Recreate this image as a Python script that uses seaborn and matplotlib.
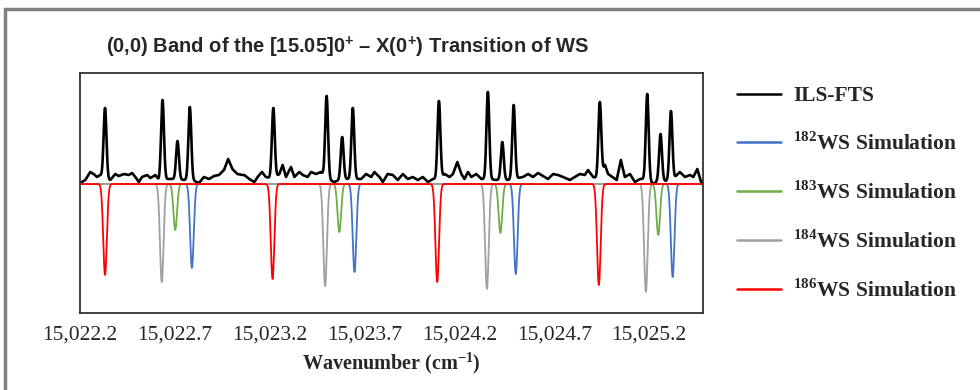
import numpy as np
import pandas as pd
import matplotlib
matplotlib.use("Agg")
import matplotlib.pyplot as plt
from matplotlib.patches import Rectangle
from matplotlib.ticker import FuncFormatter, AutoMinorLocator
import seaborn as sns

# ---------------------------------------------------------------------------
# Line lists (wavenumber in cm^-1, intensity in arbitrary units)
# ---------------------------------------------------------------------------
# Simulated isotopologue lines (drawn downward)
ws182_pos = [15022.790, 15023.647, 15024.497, 15025.324]
ws182_int = [84, 88, 90, 93]
ws183_pos = [15022.702, 15023.567, 15024.416, 15025.248]
ws183_int = [46, 48, 49, 51]
ws184_pos = [15022.631, 15023.492, 15024.345, 15025.183]
ws184_int = [98, 102, 105, 108]
ws186_pos = [15022.332, 15023.215, 15024.083, 15024.935]
ws186_int = [91, 95, 98, 101]

# Observed ILS-FTS lines (drawn upward, above the noisy background)
fts_pos = [15022.332, 15022.635, 15022.714, 15022.779,
           15023.219, 15023.500, 15023.582, 15023.638,
           15024.092, 15024.350, 15024.426, 15024.486,
           15024.940, 15025.190, 15025.260, 15025.315]
fts_int = [71, 79, 38, 72,
           71, 83, 42, 71,
           78, 87, 37, 74,
           77, 85, 45, 68]

# Observed background between the lines
bg_wn = [15022.200, 15022.228, 15022.254, 15022.272, 15022.290, 15022.307,
         15022.332, 15022.360, 15022.386, 15022.404, 15022.431, 15022.457,
         15022.475, 15022.492, 15022.510, 15022.527, 15022.554, 15022.571,
         15022.598, 15022.615, 15022.635, 15022.677, 15022.714, 15022.748,
         15022.779, 15022.827, 15022.853, 15022.880, 15022.906, 15022.932,
         15022.959, 15022.981, 15023.003, 15023.029, 15023.055, 15023.066,
         15023.092, 15023.119, 15023.136, 15023.159, 15023.180, 15023.219,
         15023.251, 15023.268, 15023.286, 15023.312, 15023.330, 15023.356,
         15023.374, 15023.400, 15023.418, 15023.444, 15023.471, 15023.500,
         15023.541, 15023.582, 15023.611, 15023.638, 15023.682, 15023.708,
         15023.735, 15023.752, 15023.779, 15023.796, 15023.822, 15023.849,
         15023.875, 15023.902, 15023.928, 15023.954, 15023.981, 15024.007,
         15024.034, 15024.060, 15024.092, 15024.122, 15024.148, 15024.166,
         15024.189, 15024.210, 15024.227, 15024.245, 15024.263, 15024.289,
         15024.316, 15024.350, 15024.395, 15024.426, 15024.454, 15024.486,
         15024.535, 15024.562, 15024.588, 15024.614, 15024.641, 15024.667,
         15024.694, 15024.720, 15024.747, 15024.782, 15024.808, 15024.835,
         15024.861, 15024.878, 15024.905, 15024.940, 15024.967, 15024.984,
         15025.007, 15025.029, 15025.051, 15025.072, 15025.099, 15025.125,
         15025.151, 15025.190, 15025.222, 15025.260, 15025.287, 15025.315,
         15025.336, 15025.362, 15025.389, 15025.415, 15025.433, 15025.454,
         15025.477, 15025.484]
bg_val = [1, 4, 12, 10, 7, 9,
          5, 4, 10, 8, 10, 9,
          11, 7, 2, 7, 9, 6,
          9, 4, 5, 5, 5, 4,
          5, 1, 7, 5, 8, 9,
          14, 25, 15, 10, 9, 9,
          5, 2, 7, 12, 7, 5,
          10, 19, 7, 17, 7, 12,
          9, 7, 12, 10, 12, 5,
          2, 5, 5, 5, 5, 10,
          7, 12, 7, 2, 10, 9,
          4, 10, 5, 7, 4, 7,
          2, 5, 5, 10, 7, 10,
          22, 10, 5, 12, 7, 10,
          5, 5, 4, 5, 4, 5,
          7, 10, 7, 11, 8, 5,
          10, 9, 7, 4, 7, 10,
          9, 14, 7, 5, 19, 10,
          7, 4, 24, 7, 10, 2,
          5, 5, 0, 5, 3, 5,
          7, 12, 7, 9, 7, 15,
          0, 2]

x_ticks = [15022.2, 15022.7, 15023.2, 15023.7, 15024.2, 15024.7, 15025.2]
x_range = (15022.2, 15025.484)

series_labels = ["ILS-FTS", r"$^{\mathbf{182}}$WS Simulation",
                 r"$^{\mathbf{183}}$WS Simulation",
                 r"$^{\mathbf{184}}$WS Simulation",
                 r"$^{\mathbf{186}}$WS Simulation"]
series_colors = ["black", "#4472C4", "#70AD47", "#A0A0A0", "#FF0000"]

# ---------------------------------------------------------------------------
# Build spectra from the line lists
# ---------------------------------------------------------------------------
grid = np.arange(x_range[0], x_range[1] + 1e-9, 0.001)


def profile(pos, inten, sigma):
    out = np.zeros_like(grid)
    for p, a in zip(pos, inten):
        out += a * np.exp(-0.5 * ((grid - p) / sigma) ** 2)
    return out


observed = profile(fts_pos, fts_int, 0.0075) + np.interp(grid, bg_wn, bg_val)
sims = [-profile(ws182_pos, ws182_int, 0.0095),
        -profile(ws183_pos, ws183_int, 0.0095),
        -profile(ws184_pos, ws184_int, 0.0095),
        -profile(ws186_pos, ws186_int, 0.0095)]

# ---------------------------------------------------------------------------
# Figure
# ---------------------------------------------------------------------------
sns.set_style("white")
plt.rcParams["font.family"] = ["Liberation Serif", "DejaVu Serif"]
plt.rcParams["mathtext.fontset"] = "custom"
plt.rcParams["mathtext.rm"] = "Liberation Sans:bold"
plt.rcParams["mathtext.bf"] = "Liberation Serif:bold"

fig = plt.figure(figsize=(9.8, 3.9), dpi=100)
ax = fig.add_axes([80 / 980, 1 - 313 / 390, 623 / 980, 240 / 390])

sns.lineplot(x=grid, y=observed, ax=ax, color=series_colors[0], lw=1.9,
             label=series_labels[0], estimator=None, sort=False)
for y, lab, col in zip(sims, series_labels[1:], series_colors[1:]):
    sns.lineplot(x=grid, y=y, ax=ax, color=col, lw=1.3, label=lab,
                 estimator=None, sort=False)

ax.set_xlim(*x_range)
ax.set_ylim(-129, 111)
ax.set_yticks([])
ax.set_ylabel("")

ax.set_xticks(x_ticks)
ax.xaxis.set_minor_locator(AutoMinorLocator(5))
ax.xaxis.set_major_formatter(FuncFormatter(lambda v, _: f"{v:,.1f}"))
ax.tick_params(axis="x", which="major", direction="inout", length=8,
               width=1.2, color="#222222", labelsize=15.5, pad=5)
ax.tick_params(axis="x", which="minor", direction="in", length=4,
               width=1.2, color="#222222")
for s in ax.spines.values():
    s.set_color("#333333")
    s.set_linewidth(1.3)

ax.set_xlabel("Wavenumber (cm$^{\\mathbf{-1}}$)", fontsize=14.5,
              fontweight="bold", labelpad=4)

fig.text(348 / 980, 1 - 47 / 390,
         "(0,0) Band of the [15.05]0$^{+}$ \u2013 X(0$^{+}$) Transition of WS",
         family=["Liberation Sans", "DejaVu Sans"], fontweight="bold",
         fontsize=14.5, ha="center", va="center")

handles, labels = ax.get_legend_handles_labels()
ax.legend_.remove()
leg = fig.legend(handles, labels, loc="upper left",
                 bbox_to_anchor=(737 / 980, 1 - 86 / 390), frameon=False,
                 prop={"weight": "bold", "size": 15.5},
                 handlelength=2.05, handletextpad=0.55, labelspacing=1.22,
                 borderpad=0, borderaxespad=0)
for line in leg.get_lines():
    line.set_linewidth(1.8)

# Frame around the whole panel
fig.add_artist(Rectangle((5 / 980, -0.5), 2.0, 1.5 - 9 / 390,
                         transform=fig.transFigure, fill=False,
                         ec="#808080", lw=2.5))

fig.savefig("out.png", dpi=100)
